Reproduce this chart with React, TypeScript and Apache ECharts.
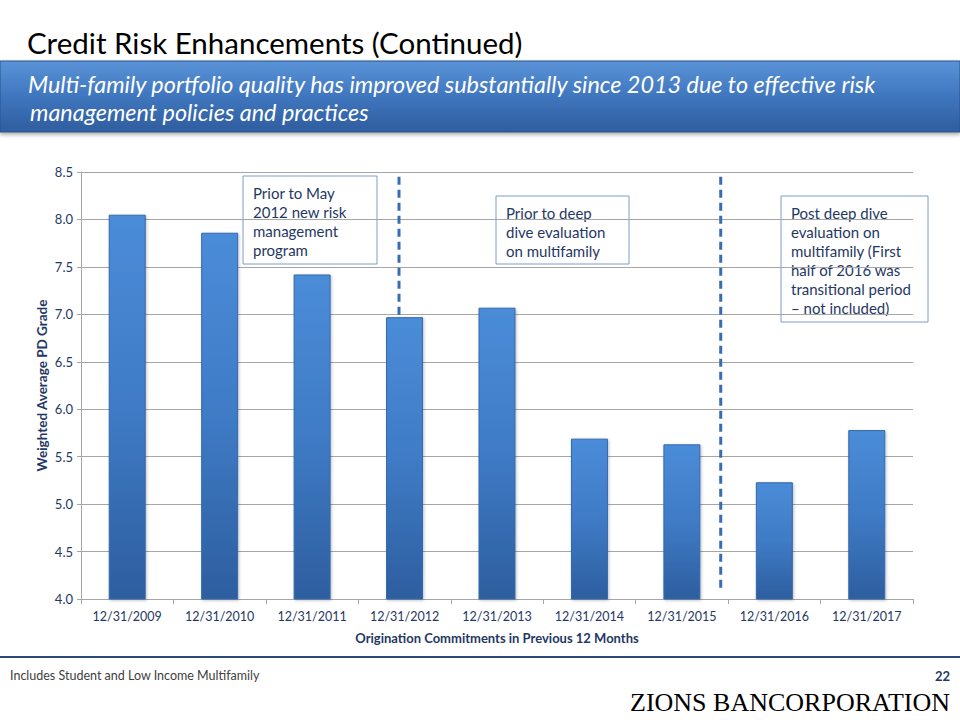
import React, { useEffect, useRef } from "react";
import * as echarts from "echarts";

const categories = [
  "12/31/2009", "12/31/2010", "12/31/2011", "12/31/2012", "12/31/2013",
  "12/31/2014", "12/31/2015", "12/31/2016", "12/31/2017",
];
const pdGrade = [8.05, 7.86, 7.42, 6.97, 7.07, 5.69, 5.63, 5.23, 5.78];
const divider1 = [[3.44, 8.45], [3.44, 6.97]];
const divider2 = [[6.92, 8.45], [6.92, 4.07]];

const titleText = "Credit Risk Enhancements (Continued)";
const bannerLines = [
  "Multi-family portfolio quality has improved substantially since 2013 due to effective risk",
  "management policies and practices",
];
const note1 = ["Prior to May", "2012 new risk", "management", "program"];
const note2 = ["Prior to deep", "dive evaluation", "on multifamily"];
const note3 = [
  "Post deep dive", "evaluation on", "multifamily (First",
  "half of 2016 was", "transitional period", "– not included)",
];

const FONT = "Lato, 'Noto Sans', sans-serif";
const NAVY = "#1F3864";

function noteBox(x: number, y: number, w: number, h: number, lines: string[]) {
  return {
    type: "group",
    x, y,
    children: [
      {
        type: "rect",
        shape: { x: 0, y: 0, width: w, height: h },
        style: { fill: "#ffffff", stroke: "#7F9DC6", lineWidth: 1 },
      },
      {
        type: "text",
        x: 10, y: 7,
        style: {
          text: lines.join("\n"),
          fill: NAVY,
          font: `15px ${FONT}`,
          lineHeight: 19,
        },
      },
    ],
  };
}

export default function App() {
  const ref = useRef<HTMLDivElement>(null);
  useEffect(() => {
    if (!ref.current) return;
    const chart = echarts.init(ref.current, undefined, { renderer: "svg" });
    chart.setOption({
      animation: false,
      backgroundColor: "#ffffff",
      grid: { left: 81, right: 47, top: 172, bottom: 121, containLabel: false },
      xAxis: [
        {
          type: "category",
          data: categories,
          axisLine: { show: true, lineStyle: { color: "#A6A6A6", width: 1 } },
          axisTick: { show: true, length: 5, lineStyle: { color: "#A6A6A6" } },
          axisLabel: { color: NAVY, fontFamily: FONT, fontSize: 12.5, margin: 11, interval: 0 },
          name: "Origination Commitments in Previous 12 Months",
          nameLocation: "middle",
          nameGap: 32,
          nameTextStyle: { color: NAVY, fontFamily: FONT, fontSize: 13, fontWeight: "bold" },
        },
        { type: "value", min: 0, max: 9, show: false },
      ],
      yAxis: {
        type: "value",
        min: 4,
        max: 8.5,
        interval: 0.5,
        axisLine: { show: true, lineStyle: { color: "#A6A6A6" } },
        axisTick: { show: true, length: 4, lineStyle: { color: "#A6A6A6" } },
        axisLabel: {
          color: NAVY, fontFamily: FONT, fontSize: 13, margin: 8,
          formatter: (v: number) => v.toFixed(1),
        },
        splitLine: { show: true, lineStyle: { color: "#A6A6A6", width: 1 } },
        name: "Weighted Average PD Grade",
        nameLocation: "middle",
        nameGap: 32,
        nameMoveOverlap: false,
        nameTextStyle: { color: NAVY, fontFamily: FONT, fontSize: 13.5, fontWeight: "bold" },
      },
      series: [
        {
          type: "bar",
          data: pdGrade,
          barWidth: "40%",
          itemStyle: {
            color: new echarts.graphic.LinearGradient(0, 0, 0, 1, [
              { offset: 0, color: "#4B8CD8" },
              { offset: 0.5, color: "#3F7BC6" },
              { offset: 1, color: "#2D5E9F" },
            ]),
            borderColor: "#3468AC",
            borderWidth: 1,
            shadowColor: "rgba(0,0,0,0.25)",
            shadowBlur: 3,
            shadowOffsetX: 1,
            shadowOffsetY: 1,
          },
        },
        {
          type: "line",
          xAxisIndex: 1,
          data: divider1,
          symbol: "none",
          lineStyle: { color: "#3A6DB0", width: 3, type: [8, 5] },
          z: 5,
        },
        {
          type: "line",
          xAxisIndex: 1,
          data: divider2,
          symbol: "none",
          lineStyle: { color: "#3A6DB0", width: 3, type: [8, 5] },
          z: 5,
        },
      ],
      graphic: [
        {
          type: "text",
          left: 27, top: 27,
          style: { text: titleText, fill: "#000000", font: `29.5px ${FONT}` },
        },
        {
          type: "rect",
          shape: { x: 0, y: 61, width: 960, height: 71 },
          style: {
            fill: new echarts.graphic.LinearGradient(0, 0, 0, 1, [
              { offset: 0, color: "#5A93D8" },
              { offset: 0.5, color: "#3F76BE" },
              { offset: 1, color: "#2F5D9E" },
            ]),
            stroke: "#2A528C",
            lineWidth: 1,
            shadowColor: "rgba(0,0,0,0.35)",
            shadowBlur: 4,
            shadowOffsetY: 2,
          },
        },
        {
          type: "text",
          x: 28, y: 72,
          style: {
            text: bannerLines[0],
            fill: "#ffffff",
            font: `italic 23.4px ${FONT}`,
          },
        },
        {
          type: "text",
          x: 30, y: 100,
          style: {
            text: bannerLines[1],
            fill: "#ffffff",
            font: `italic 23.4px ${FONT}`,
          },
        },
        noteBox(243, 176, 134, 88, note1),
        noteBox(496, 196, 133, 68, note2),
        noteBox(781, 196, 147, 126, note3),
        {
          type: "line",
          shape: { x1: 0, y1: 657, x2: 960, y2: 657 },
          style: { stroke: "#2B4A77", lineWidth: 2 },
        },
        {
          type: "text",
          x: 10, y: 669,
          style: {
            text: "Includes Student and Low Income Multifamily",
            fill: "#404040",
            font: `12.5px ${FONT}`,
          },
        },
        {
          type: "text",
          x: 950, y: 669,
          style: {
            text: "22",
            fill: NAVY,
            font: `bold 13px ${FONT}`,
            align: "right",
          },
        },
        {
          type: "text",
          x: 950, y: 689,
          style: {
            text: "ZIONS BANCORPORATION",
            fill: "#000000",
            font: `26px 'Liberation Serif', 'DejaVu Serif', serif`,
            align: "right",
          },
        },
      ],
    });
    return () => chart.dispose();
  }, []);
  return (
    <div
      ref={ref}
      style={{ position: "fixed", left: 0, top: 0, width: 960, height: 720 }}
    />
  );
}
